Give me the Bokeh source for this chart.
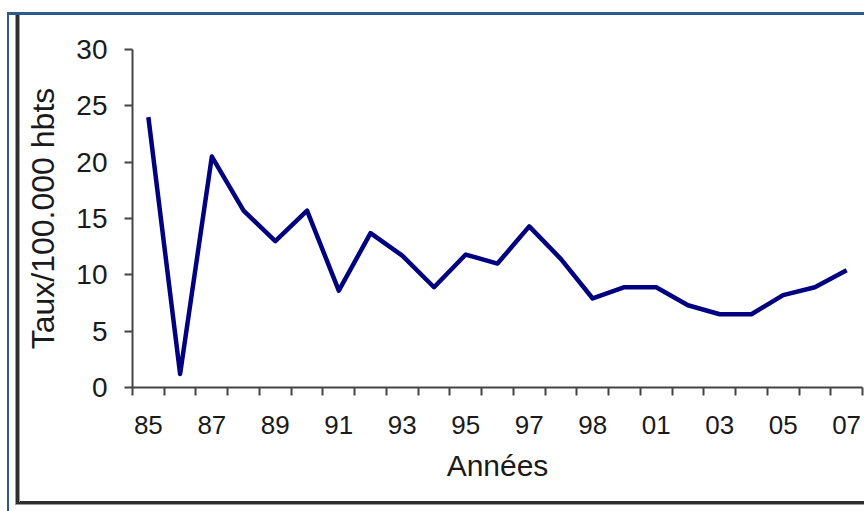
from bokeh.plotting import figure
from bokeh.models import ColumnDataSource, FixedTicker, Range1d
from bokeh.embed import file_html
from bokeh.resources import INLINE

# ---- data ----
years = ["85", "86", "87", "88", "89", "90", "91", "92", "93", "94", "95", "96",
         "97", "98", "99", "00", "01", "02", "03", "04", "05", "06", "07"]
rates = [24.0, 1.2, 20.5, 15.7, 13.0, 15.7, 8.6, 13.7, 11.7, 8.9, 11.8, 11.0,
         14.3, 11.4, 7.9, 8.9, 8.9, 7.3, 6.5, 6.5, 8.2, 8.9, 10.4]
# tick labels as printed under every other category in the reference
tick_labels = ["85", "87", "89", "91", "93", "95", "97", "98", "01", "03", "05", "07"]
y_ticks = [0, 5, 10, 15, 20, 25, 30]

idx = list(range(len(years)))
src = ColumnDataSource(dict(x=idx, y=rates, year=years))

W, H = 864, 511
p = figure(width=W, height=H, output_backend="svg", toolbar_location=None,
           x_range=Range1d(-0.5, len(years) - 0.5), y_range=Range1d(0, 30),
           min_border_left=132, min_border_right=2, min_border_top=49,
           min_border_bottom=124)
p.background_fill_color = None
p.border_fill_color = None
p.outline_line_color = None
p.grid.visible = False

# picture frame drawn behind the (transparent) canvas: blue outer, dark inner
blue, dark, shade = "#2d5a8e", "#2e2e2e", "#9a9a9a"
layers = [
    (blue, "8px 12px / 856px 3px"),
    (blue, "7px 12px / 2px 499px"),
    (shade, "15px 14px / 1px 491px"),
    (dark, "16px 14px / 3px 490px"),
    (shade, "19px 14px / 1px 488px"),
    (dark, "16px 501px / 848px 3px"),
    (shade, "16px 504px / 848px 1px"),
]
bg = ", ".join(f"linear-gradient({c}, {c}) {pos} no-repeat" for c, pos in layers)
p.styles = {"background": bg + ", white"}

p.line("x", "y", source=src, line_color="#000080", line_width=4.5,
       line_join="round")

FONT = "Liberation Sans"
axis_color = "#444444"

# x axis: labels at every other category centre, tick marks at category boundaries
major_pos = idx[::2]
xt = FixedTicker(ticks=major_pos, minor_ticks=[i - 0.5 for i in range(len(years) + 1)])
xa = p.xaxis[0]
xa.ticker = xt
xa.major_label_overrides = {int(k): lab for k, lab in zip(major_pos, tick_labels)}
xa.major_tick_out = 0
xa.major_tick_in = 0
xa.minor_tick_out = 8
xa.minor_tick_in = 0
xa.minor_tick_line_color = axis_color
xa.minor_tick_line_width = 2
xa.axis_line_color = axis_color
xa.axis_line_width = 2
xa.major_label_text_font = FONT
xa.major_label_text_font_size = "26px"
xa.major_label_text_color = "#1a1a1a"
xa.major_label_standoff = 20
xa.axis_label = "Années"
xa.axis_label_text_font = FONT
xa.axis_label_text_font_size = "30px"
xa.axis_label_text_font_style = "normal"
xa.axis_label_text_color = "#1a1a1a"
xa.axis_label_standoff = 12

ya = p.yaxis[0]
ya.ticker = FixedTicker(ticks=y_ticks, minor_ticks=[])
ya.major_tick_out = 8
ya.major_tick_in = 0
ya.major_tick_line_color = axis_color
ya.major_tick_line_width = 2
ya.axis_line_color = axis_color
ya.axis_line_width = 2
ya.major_label_text_font = FONT
ya.major_label_text_font_size = "28px"
ya.major_label_text_color = "#1a1a1a"
ya.major_label_standoff = 17
ya.axis_label = "Taux/100.000 hbts"
ya.axis_label_text_font = FONT
ya.axis_label_text_font_size = "32px"
ya.axis_label_text_font_style = "normal"
ya.axis_label_text_color = "#1a1a1a"
ya.axis_label_standoff = 12

open("out.html", "w").write(file_html(p, INLINE))
